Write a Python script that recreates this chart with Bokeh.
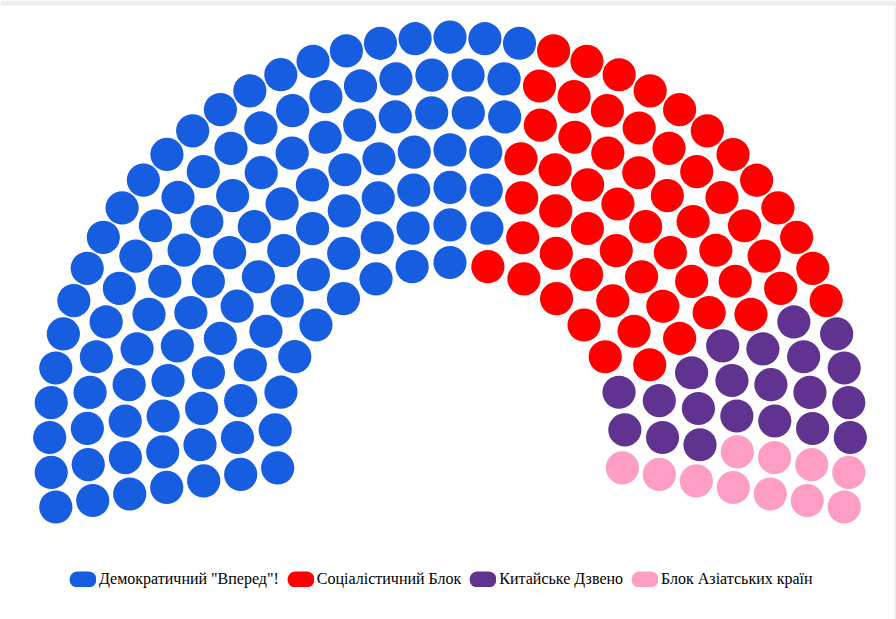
import math
from bokeh.plotting import figure
from bokeh.models import Range1d, ColumnDataSource, Legend, LegendItem
from bokeh.embed import file_html
from bokeh.resources import INLINE

# ---- data ----
parties = ['Демократичний "Вперед"!', "Соціалістичний Блок", "Китайське Дзвено", "Блок Азіатських країн"]
seats = [112, 57, 21, 11]
colors = ["#175DE0", "#FF0000", "#613391", "#FF9EC4"]

# ---- chamber layout (seats per arc, inner -> outer) ----
row_slots = [17, 21, 25, 29, 32, 36, 41]
assert sum(row_slots) == sum(seats)

W, H = 896, 619
TOP, RIGHT = 5, 2
cx, cy = 449.5, 182.0
r_in, r_out = 175.0, 400.3
start_deg, end_deg = 190.0, -10.0
dot_r = 16.6

slots = []
n_rows = len(row_slots)
for i in reversed(range(n_rows)):  # outer arc first
    r = r_in + (r_out - r_in) * i / (n_rows - 1)
    n = row_slots[i]
    for k in range(n):
        a = start_deg + (end_deg - start_deg) * k / (n - 1)
        slots.append((round(a, 6), r))
slots.sort(key=lambda s: -s[0])

p = figure(width=W, height=H, x_range=Range1d(0, W - RIGHT), y_range=Range1d(0, H - TOP),
           output_backend="svg", toolbar_location=None,
           x_axis_location=None, y_axis_location=None,
           min_border_left=0, min_border_right=RIGHT, min_border_top=TOP, min_border_bottom=0,
           border_fill_color="#eeeeee", background_fill_color="white", outline_line_color=None)
p.grid.visible = False

nan = float("nan")
items = []
idx = 0
for name, n, c in zip(parties, seats, colors):
    part = slots[idx:idx + n]
    idx += n
    xs = [cx + r * math.cos(math.radians(a)) for a, r in part]
    ys = [cy + r * math.sin(math.radians(a)) for a, r in part]
    p.circle(x=xs, y=ys, radius=dot_r, fill_color=c, line_color=None)
    # legend swatch: one short round-capped dash -> pill shape
    lr = p.line(x=[nan, nan], y=[nan, nan], line_color=c, line_width=16, line_cap="round",
                line_dash="11 100", line_dash_offset=-8)
    items.append(LegendItem(label=name, renderers=[lr]))

legend = Legend(items=items, orientation="horizontal", location=(69, 31),
                glyph_width=27, glyph_height=16, label_height=16, label_standoff=3,
                spacing=8, padding=0, margin=0, border_line_color=None,
                background_fill_alpha=0, label_text_font="Liberation Serif",
                label_text_font_size="16px", label_text_color="#000000")
p.add_layout(legend)

open("out.html", "w").write(file_html(p, INLINE))
